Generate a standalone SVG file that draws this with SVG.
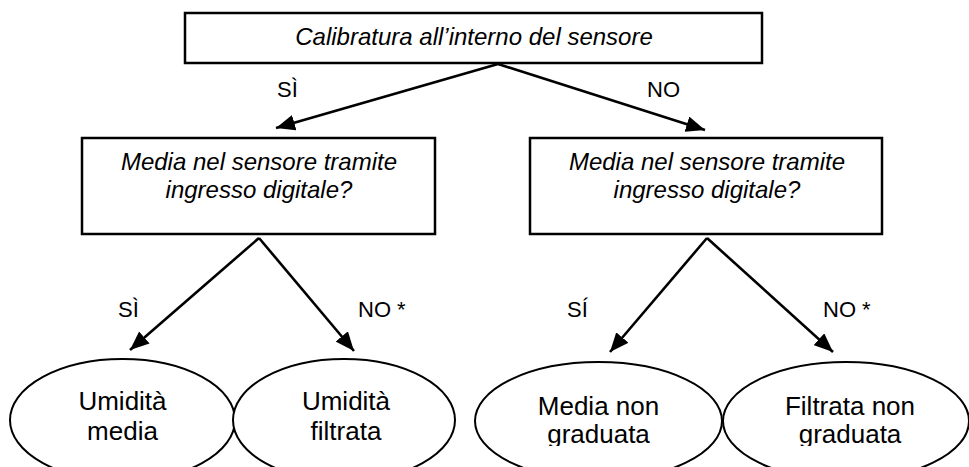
<svg xmlns="http://www.w3.org/2000/svg" width="969" height="467" viewBox="0 0 969 467">
<style>
.box{fill:#fff;stroke:#000;stroke-width:2.5}
.ell{fill:#fff;stroke:#000;stroke-width:2}
.q{font-family:"Liberation Sans",Arial,sans-serif;font-style:italic;font-size:24px;fill:#000;text-anchor:middle}
.e{font-family:"Liberation Sans",Arial,sans-serif;font-size:26px;fill:#000;text-anchor:middle}
.lbl{font-family:"Liberation Sans",Arial,sans-serif;font-size:22px;fill:#000}
.con{stroke:#000;stroke-width:2.6;fill:none;marker-end:url(#ah)}
</style>
<defs>
<marker id="ah" markerUnits="userSpaceOnUse" markerWidth="20" markerHeight="16" refX="19" refY="8" orient="auto">
<path d="M0,0 L19,8 L0,16 z" fill="#000"/>
</marker>
<clipPath id="cl"><rect x="0" y="0" width="969" height="446"/></clipPath>
</defs>
<rect width="969" height="467" fill="#fff"/>
<g id="connectors">
<line class="con" x1="498" y1="64" x2="276" y2="128"/>
<line class="con" x1="498" y1="64" x2="705" y2="130"/>
<line class="con" x1="259" y1="238" x2="130" y2="350"/>
<line class="con" x1="259" y1="238" x2="354" y2="351"/>
<line class="con" x1="707" y1="238" x2="610" y2="352"/>
<line class="con" x1="707" y1="238" x2="833" y2="352"/>
<text class="lbl" x="277" y="97">SÌ</text>
<text class="lbl" x="647" y="97">NO</text>
<text class="lbl" x="118" y="317">SÌ</text>
<text class="lbl" x="358" y="317">NO *</text>
<text class="lbl" x="567" y="317">SÍ</text>
<text class="lbl" x="823" y="317">NO *</text>
</g>
<g id="root">
<rect class="box" x="185" y="13" width="577" height="50"/>
<text class="q" x="474" y="45">Calibratura all’interno del sensore</text>
</g>
<g id="q-left">
<rect class="box" x="82" y="138" width="353" height="96"/>
<text class="q" x="259" y="170">Media nel sensore tramite</text>
<text class="q" x="259" y="198">ingresso digitale?</text>
</g>
<g id="q-right">
<rect class="box" x="530" y="138" width="352" height="96"/>
<text class="q" x="707" y="170">Media nel sensore tramite</text>
<text class="q" x="707" y="198">ingresso digitale?</text>
</g>
<g id="umidita-media">
<ellipse class="ell" cx="122.5" cy="420" rx="112.5" ry="61"/>
<text class="e" x="122.5" y="410">Umidità</text>
<text class="e" x="122.5" y="440">media</text>
</g>
<g id="umidita-filtrata">
<ellipse class="ell" cx="344" cy="420" rx="111" ry="61"/>
<text class="e" x="346" y="410">Umidità</text>
<text class="e" x="346" y="440">filtrata</text>
</g>
<g id="media-non-graduata">
<ellipse class="ell" cx="598.5" cy="421" rx="123.5" ry="59"/>
<g clip-path="url(#cl)">
<text class="e" x="598.5" y="415">Media non</text>
<text class="e" x="598.5" y="443">graduata</text>
</g>
</g>
<g id="filtrata-non-graduata">
<ellipse class="ell" cx="846" cy="421" rx="123" ry="59"/>
<g clip-path="url(#cl)">
<text class="e" x="850" y="415">Filtrata non</text>
<text class="e" x="850" y="443">graduata</text>
</g>
</g>
</svg>
